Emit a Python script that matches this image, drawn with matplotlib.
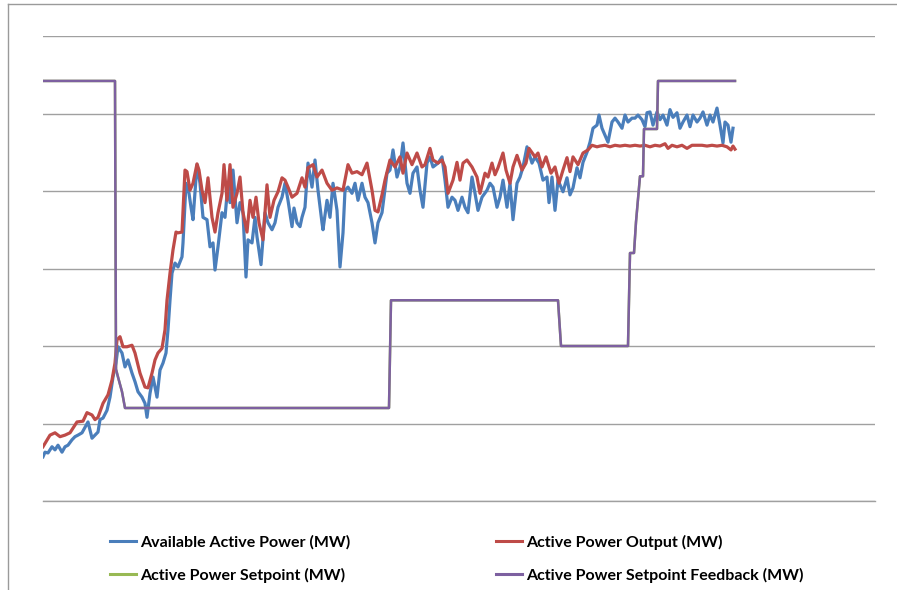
import matplotlib
matplotlib.use("Agg")
import matplotlib.pyplot as plt
from matplotlib.lines import Line2D

# time axis in samples, power in MW (chart has no axis labels)
avail_t = [0, 2, 5, 9, 12, 15, 19, 22, 25, 29, 32, 35, 39, 42, 45, 49, 52, 55, 57, 60,
           64, 67, 70, 73, 75, 79, 82, 85, 89, 92, 95, 99, 102, 104, 107, 110, 114, 117, 120, 123,
           125, 127, 129, 132, 135, 139, 140, 143, 146, 148, 150, 154, 157, 160, 164, 167, 170, 172, 175, 179,
           182, 185, 187, 190, 194, 197, 200, 203, 205, 209, 212, 214, 218, 222, 225, 229, 232, 235, 239, 242,
           245, 249, 251, 254, 257, 259, 262, 265, 269, 272, 275, 279, 280, 284, 287, 290, 294, 297, 300, 302,
           305, 309, 312, 315, 319, 322, 325, 329, 332, 335, 339, 344, 347, 350, 354, 357, 360, 364, 367, 370,
           374, 377, 380, 384, 387, 390, 395, 399, 402, 405, 409, 412, 415, 419, 422, 425, 429, 432, 435, 439,
           444, 447, 450, 454, 457, 460, 464, 467, 470, 474, 477, 480, 484, 489, 492, 496, 500, 504, 506, 509,
           512, 515, 520, 524, 527, 530, 534, 537, 540, 544, 547, 550, 554, 556, 559, 562, 565, 569, 572, 575,
           579, 582, 585, 589, 592, 595, 599, 602, 604, 607, 610, 614, 617, 620, 624, 627, 630, 634, 637, 640,
           644, 647, 650, 654, 657, 660, 664, 667, 670, 674, 677, 680, 682, 685, 688, 690]
avail_mw = [5.7, 6.3, 6.2, 7.0, 6.6, 7.2, 6.3, 7.0, 7.2, 7.9, 8.3, 8.5, 8.8, 9.5, 10.2, 8.1, 8.5, 8.9, 10.5, 10.7,
            11.7, 13.4, 16.0, 17.8, 19.9, 19.1, 17.3, 18.2, 16.5, 15.4, 14.1, 13.4, 12.6, 10.8, 13.9, 16.0, 13.4, 16.9, 17.8, 19.1,
            22.1, 25.9, 29.4, 30.7, 30.2, 31.5, 33.3, 41.0, 39.7, 37.9, 36.3, 43.4, 41.0, 36.6, 36.3, 32.8, 33.3, 29.8, 32.8, 37.2,
            36.6, 41.0, 38.5, 42.7, 35.9, 38.5, 37.2, 28.9, 33.7, 33.3, 36.6, 34.1, 30.5, 37.2, 35.9, 35.0, 35.9, 37.9, 39.2, 41.0,
            38.8, 35.4, 37.8, 35.9, 35.4, 36.6, 37.9, 43.6, 40.5, 44.0, 40.1, 35.9, 35.0, 38.8, 36.6, 41.0, 37.5, 30.2, 34.6, 40.1,
            40.5, 39.7, 41.0, 38.8, 41.0, 39.2, 38.5, 35.9, 33.3, 35.9, 37.2, 42.3, 42.7, 45.3, 41.8, 43.1, 46.2, 41.0, 39.7, 42.3,
            43.1, 40.1, 37.9, 43.6, 44.4, 43.1, 43.6, 44.4, 41.4, 37.9, 39.2, 38.8, 37.5, 39.2, 37.9, 37.2, 41.8, 39.7, 37.5, 39.2,
            40.1, 41.0, 40.5, 37.9, 39.2, 41.4, 37.9, 41.0, 36.3, 41.0, 41.8, 43.1, 45.7, 43.6, 44.4, 43.6, 41.4, 41.8, 38.5, 41.8,
            37.5, 41.4, 39.9, 41.7, 39.5, 40.4, 43.0, 41.7, 43.7, 45.0, 46.3, 48.1, 48.5, 49.8, 48.1, 47.2, 46.3, 48.9, 49.4, 48.9,
            48.1, 49.8, 48.9, 49.4, 49.4, 49.8, 49.2, 48.3, 50.1, 50.2, 48.5, 50.2, 49.2, 49.8, 48.5, 50.5, 49.5, 50.1, 48.1, 48.9,
            49.8, 48.3, 49.8, 48.9, 49.4, 50.2, 48.5, 49.8, 48.9, 50.7, 48.5, 46.2, 48.9, 48.5, 46.3, 48.1]

output_t = [0, 7, 12, 17, 22, 27, 34, 40, 44, 49, 52, 55, 60, 65, 69, 72, 74, 77, 80, 84,
            89, 92, 97, 102, 105, 109, 112, 115, 119, 122, 124, 127, 130, 133, 135, 139, 142, 144, 147, 150,
            154, 156, 159, 162, 165, 169, 172, 175, 179, 181, 184, 187, 190, 194, 197, 200, 204, 207, 210, 213,
            216, 220, 224, 227, 231, 235, 239, 242, 245, 249, 254, 259, 262, 265, 270, 274, 279, 284, 289, 294,
            300, 305, 309, 314, 319, 324, 329, 332, 335, 339, 342, 347, 352, 357, 360, 364, 369, 374, 379, 382,
            387, 390, 395, 399, 402, 405, 410, 414, 417, 420, 424, 429, 434, 437, 442, 445, 449, 452, 455, 460,
            463, 467, 470, 474, 479, 483, 486, 492, 495, 499, 503, 508, 512, 516, 520, 524, 527, 530, 535, 540,
            545, 549, 554, 557, 562, 567, 572, 577, 582, 587, 592, 597, 602, 607, 612, 617, 622, 625, 629, 634,
            639, 644, 649, 654, 659, 664, 669, 674, 679, 684, 688, 690, 692]
output_mw = [7.0, 8.5, 8.8, 8.3, 8.5, 8.8, 10.2, 10.3, 11.4, 11.1, 10.5, 10.8, 12.6, 13.7, 15.6, 17.8, 20.8, 21.2, 19.9, 19.9,
             20.1, 19.1, 16.5, 14.7, 14.6, 16.5, 18.2, 19.1, 19.7, 22.1, 25.9, 29.4, 32.4, 34.7, 34.6, 34.7, 42.7, 42.5, 40.1, 41.0,
             43.5, 42.7, 40.1, 38.5, 41.7, 36.6, 34.7, 37.2, 39.7, 43.4, 38.8, 43.4, 37.9, 39.7, 41.8, 37.2, 34.7, 38.8, 36.6, 39.2,
             35.9, 33.7, 40.8, 36.6, 38.8, 39.9, 41.7, 41.4, 40.5, 39.2, 39.7, 41.7, 40.5, 43.0, 43.4, 41.8, 42.7, 41.0, 40.1, 40.4,
             40.1, 43.4, 42.3, 42.5, 42.1, 43.6, 40.1, 37.5, 37.3, 39.5, 41.4, 44.0, 43.1, 44.4, 42.3, 44.9, 43.4, 44.9, 43.1, 43.4,
             45.5, 44.0, 43.6, 44.0, 43.1, 39.7, 41.4, 43.7, 41.4, 43.6, 44.0, 43.1, 41.8, 39.7, 42.3, 41.8, 43.6, 42.1, 43.0, 44.9,
             42.7, 41.0, 43.1, 44.6, 42.7, 43.6, 45.5, 44.4, 44.9, 43.1, 44.4, 42.3, 43.1, 41.0, 42.7, 44.3, 42.5, 44.4, 43.4, 44.9,
             45.3, 45.9, 45.7, 45.8, 45.9, 45.7, 45.9, 45.8, 45.9, 45.8, 45.9, 45.8, 45.9, 45.7, 45.9, 45.8, 46.1, 45.5, 45.9, 45.7,
             45.9, 45.5, 45.9, 45.9, 45.9, 45.8, 45.9, 45.8, 45.9, 45.7, 45.3, 45.8, 45.4]

feedback_t = [0, 72, 73, 75, 79, 82, 346, 348, 515, 518, 585, 587, 591, 593, 597, 600, 601, 614, 615, 692]
feedback_mw = [54.2, 54.2, 17.0, 16.0, 14.1, 12.0, 12.0, 25.9, 25.9, 20.0, 20.0, 32.0, 32.0, 36.0, 41.9, 41.9, 48.0, 48.0, 54.2, 54.2]

# setpoint sits under the feedback trace in the original
setpoint_t = feedback_t
setpoint_mw = feedback_mw

labels = ['Available Active Power (MW)', 'Active Power Output (MW)',
          'Active Power Setpoint (MW)', 'Active Power Setpoint Feedback (MW)']
colors = ['#4A7EBB', '#BE4B48', '#98B954', '#7D60A0']

fig = plt.figure(figsize=(8.97, 5.90), dpi=100)
ax = fig.add_axes([43 / 897, 1 - 501 / 590, (875 - 43) / 897, (501 - 36) / 590])

ax.plot(avail_t, avail_mw, color=colors[0], lw=2.3, solid_joinstyle='round')
ax.plot(output_t, output_mw, color=colors[1], lw=2.3, solid_joinstyle='round')
ax.plot(setpoint_t, setpoint_mw, color=colors[2], lw=1.8)
ax.plot(feedback_t, feedback_mw, color=colors[3], lw=1.8)

ax.set_xlim(0, 832)
ax.set_ylim(0, 60)
ax.set_yticks(range(0, 61, 10))
ax.set_xticks([])
ax.yaxis.grid(True, color='#A0A0A0', lw=1.0)
ax.set_axisbelow(True)
ax.tick_params(left=False, labelleft=False)
for s in ['left', 'right', 'top']:
    ax.spines[s].set_visible(False)
ax.spines['bottom'].set_color('#A0A0A0')
ax.spines['bottom'].set_linewidth(1.0)

# chart area border (cut off at right and bottom)
fig.add_artist(Line2D([8 / 897, 8 / 897], [0, 1 - 4 / 590], color='#9A9A9A', lw=1.0))
fig.add_artist(Line2D([8 / 897, 1], [1 - 4 / 590, 1 - 4 / 590], color='#9A9A9A', lw=1.0))

# legend reads row by row: matplotlib fills columns first, so reorder
order = [0, 2, 1, 3]
handles = [Line2D([], [], color=colors[i], lw=2.2) for i in order]
fig.legend(handles, [labels[i] for i in order], ncol=2, frameon=False, loc='upper left',
           bbox_to_anchor=(110 / 897, 1 - 535 / 590), borderpad=0, borderaxespad=0,
           handlelength=1.6, handletextpad=0.3, columnspacing=9.1, labelspacing=1.1,
           prop={'family': 'Lato', 'weight': 'bold', 'size': 11.5})

fig.savefig('out.png', dpi=100)
